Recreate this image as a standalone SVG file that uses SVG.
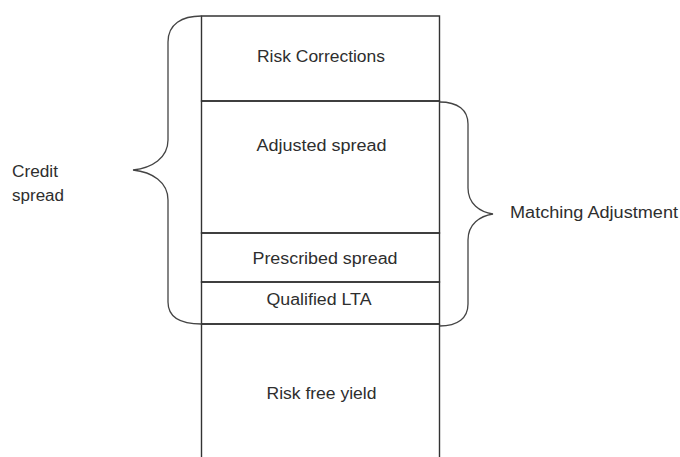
<svg xmlns="http://www.w3.org/2000/svg" width="680" height="457" viewBox="0 0 680 457">
<style>
.ln{fill:none;stroke:#333;stroke-width:1.4}
.br{fill:none;stroke:#444;stroke-width:1.3}
text{font-family:"Liberation Sans",Arial,sans-serif;font-size:16px;fill:#2e2e2e}
.c{text-anchor:middle}
</style>
<rect width="680" height="457" fill="#fff"/>
<g id="risk-corrections">
<path class="ln" d="M201.5,16 H439.5 V101 H201.5 Z"/>
<text class="c" x="321" y="62" textLength="128" lengthAdjust="spacingAndGlyphs">Risk Corrections</text>
</g>
<g id="adjusted-spread">
<path class="ln" d="M201.5,101 H439.5 V233 H201.5 Z"/>
<text class="c" x="321.5" y="151" textLength="130" lengthAdjust="spacingAndGlyphs">Adjusted spread</text>
</g>
<g id="prescribed-spread">
<path class="ln" d="M201.5,233 H439.5 V282 H201.5 Z"/>
<text class="c" x="325" y="264" textLength="145" lengthAdjust="spacingAndGlyphs">Prescribed spread</text>
</g>
<g id="qualified-lta">
<path class="ln" d="M201.5,282 H439.5 V324 H201.5 Z"/>
<text class="c" x="319" y="305" textLength="105" lengthAdjust="spacingAndGlyphs">Qualified LTA</text>
</g>
<g id="risk-free-yield">
<path class="ln" d="M201.5,324 H439.5 M201.5,324 V457 M439.5,324 V457"/>
<text class="c" x="321.5" y="399" textLength="110" lengthAdjust="spacingAndGlyphs">Risk free yield</text>
</g>
<g id="connectors">
<path class="br" d="M201.5,16 C182,16 168,24 168,42 V140 C168,158 152,168 133,170 C152,172 168,182 168,200 V302 C168,318 182,324 201.5,324"/>
<path class="br" d="M439.5,102 C458,102 468,110 468,124 V188 C468,204 480,212 493,214 C480,216 468,224 468,240 V304 C468,318 458,326 439.5,326"/>
</g>
<g id="credit-spread">
<text x="12" y="177" textLength="46" lengthAdjust="spacingAndGlyphs">Credit</text>
<text x="12" y="201" textLength="52" lengthAdjust="spacingAndGlyphs">spread</text>
</g>
<g id="matching-adjustment">
<text x="510" y="218" textLength="168" lengthAdjust="spacingAndGlyphs">Matching Adjustment</text>
</g>
</svg>
